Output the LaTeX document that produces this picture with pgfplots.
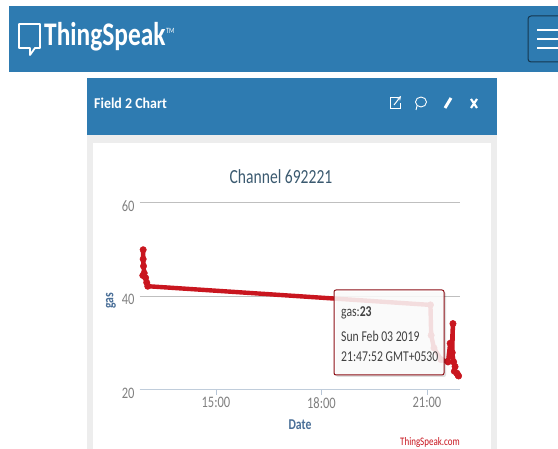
\documentclass[border=0pt]{standalone}
\usepackage{fontspec}
\setmainfont{Carlito}
\usepackage{graphicx}
\usepackage{pgfplots}
\pgfplotsset{compat=1.18}
\definecolor{tsblue}{HTML}{2E7BB1}
\definecolor{tsred}{HTML}{C9161F}
\definecolor{lab}{HTML}{4A6F98}
\definecolor{tit}{HTML}{3B5A70}
\definecolor{tickc}{HTML}{808080}
\newcommand{\nar}[1]{\scalebox{.78}[1]{#1}}
\pgfplotstableread{
h y
12.93 50
12.93 48
12.94 46.5
12.96 45
12.92 44.5
13.00 44
13.03 43
13.06 42.2
21.10 38.2
21.12 31.7
21.20 29
21.40 26.5
21.60 26
21.66 30
21.70 28
21.74 34.2
21.72 28
21.76 26
21.80 25
21.78 24
21.85 23.6
21.88 23.2
21.90 23
}\gasdata
\begin{document}
\begin{tikzpicture}[x=1pt,y=-1pt]
\useasboundingbox (0,0) rectangle (558,449);
\fill[white] (0,0) rectangle (558,449);
% top band
\fill[tsblue] (9,6) rectangle (558,72);
\draw[white,line width=1.8pt,line join=round] (19,24) -- (40,24) -- (40,48) -- (35,48) -- (30,55) -- (30,48) -- (19,48) -- cycle;
\node[anchor=west,text=white,font=\fontsize{33}{36}\selectfont\bfseries,inner sep=0pt] at (44,37) {\scalebox{.77}[1]{ThingSpeak}};
\node[anchor=west,text=white,font=\fontsize{8}{9}\selectfont,inner sep=0pt] at (166,31) {\nar{TM}};
\draw[black!55!tsblue,line width=1pt,rounded corners=3pt] (562,16) -- (528,16) -- (528,62) -- (562,62);
\foreach \yy in {30,39,48}{\fill[white] (537,\yy-1.2) rectangle (558,\yy+1.2);}
% panel
\fill[black!7] (87,78) rectangle (497,449);
\fill[tsblue] (87,78) rectangle (497,135);
\fill[white] (93,143) rectangle (491,449);
\node[anchor=west,text=white,font=\fontsize{15}{17}\selectfont\bfseries,inner sep=0pt] at (94,103) {\scalebox{.93}[1]{Field 2 Chart}};
% icons
\draw[white,line width=1pt] (398,98) -- (390,98) -- (390,109) -- (400,109) -- (400,103);
\draw[white,line width=1pt,-stealth] (394,105) -- (401,96);
\draw[white,line width=.9pt] (421,102) ellipse (5.5 and 5);
\draw[white,line width=.9pt] (417,106) -- (416,110);
\draw[white,line width=3pt] (445,108) -- (451,98);
\draw[white,line width=2.2pt] (471,99) -- (477,108) (477,99) -- (471,108);
% chart
\begin{axis}[
  at={(140pt,-390pt)},anchor=south west,
  scale only axis,width=320pt,height=187pt,
  xmin=12.84,xmax=21.94,ymin=20,ymax=60,
  axis line style={draw=none},
  axis x line*=bottom,axis y line*=left,
  xtick={15,18,21},xticklabels={\nar{15:00},\nar{18:00},\nar{21:00}},
  ytick={20,40,60},yticklabels={\nar{20},\nar{40},\nar{60}},
  ymajorgrids,grid style={draw=black!25,line width=1pt},
  tick style={draw=none},
  ticklabel style={text=tickc,font=\fontsize{16}{18}\selectfont},
  xticklabel style={yshift=-4pt},
  yticklabel style={xshift=-2pt,yshift=-3pt},
  clip=false,
]
\draw[lab!35,line width=1pt] (axis cs:12.84,20) -- (axis cs:21.94,20);
\foreach \t in {15,18,21}{\edef\tmp{\noexpand\draw[lab!40,line width=.8pt] (axis cs:\t,20) -- (axis cs:\t,19);}\tmp}
\addplot[tsred,line width=4.4pt,line join=round,mark=*,mark size=3.2pt,mark options={fill=tsred,draw=tsred,line width=.5pt}] table[x=h,y=y] {\gasdata};
\end{axis}
% axis titles
\node[text=tit,font=\fontsize{20}{22}\selectfont,inner sep=0pt] at (281,177) {\nar{Channel 692221}};
\node[text=lab,font=\fontsize{15}{17}\selectfont\bfseries,inner sep=0pt] at (300,425) {\nar{Date}};
\node[text=lab,font=\fontsize{15}{17}\selectfont\bfseries,inner sep=0pt,rotate=90] at (111,301) {\nar{gas}};
\node[anchor=east,text=tsred,font=\fontsize{11.5}{13}\selectfont,inner sep=0pt] at (460,442) {\nar{ThingSpeak.com}};
% tooltip
\fill[black,opacity=.12,rounded corners=2pt] (336,292) rectangle (446,377);
\draw[tsred!70!black,line width=1pt,fill=white,fill opacity=.86,rounded corners=2pt] (334,290) rectangle (444,375);
\node[anchor=west,text=black!75,font=\fontsize{15}{17}\selectfont,inner sep=0pt] at (341,313) {\nar{gas:\textbf{23}}};
\node[anchor=west,text=black!75,font=\fontsize{15}{17}\selectfont,inner sep=0pt] at (341,336) {\nar{Sun Feb 03 2019}};
\node[anchor=west,text=black!75,font=\fontsize{15}{17}\selectfont,inner sep=0pt] at (341,357) {\nar{21:47:52 GMT+0530}};
\end{tikzpicture}
\end{document}
